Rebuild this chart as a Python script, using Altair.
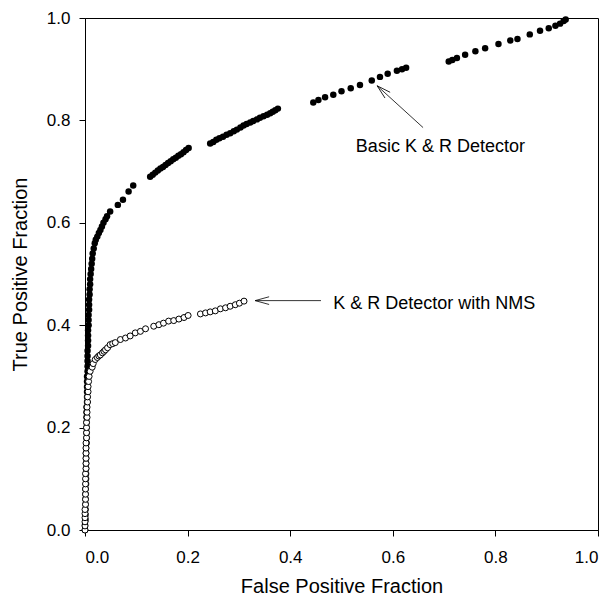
import altair as alt
import pandas as pd

# Basic K & R Detector (filled markers)
basic_x = [0.000, 0.000, 0.001, 0.001, 0.001, 0.001, 0.001, 0.001, 0.001, 0.002,
           0.002, 0.002, 0.002, 0.002, 0.002, 0.002, 0.002, 0.003, 0.003, 0.003,
           0.003, 0.003, 0.003, 0.003, 0.003, 0.004, 0.004, 0.004, 0.004, 0.004,
           0.004, 0.005, 0.005, 0.005, 0.005, 0.005, 0.006, 0.006, 0.006, 0.006,
           0.007, 0.007, 0.007, 0.008, 0.008, 0.008, 0.009, 0.009, 0.010, 0.010,
           0.011, 0.012, 0.013, 0.014, 0.015, 0.017, 0.019, 0.021,
           0.024, 0.027, 0.030, 0.033, 0.036, 0.040, 0.043, 0.049, 0.064, 0.074,
           0.085, 0.094,
           0.127, 0.132, 0.137, 0.142, 0.147, 0.152, 0.157, 0.162, 0.167, 0.172,
           0.177, 0.182, 0.187, 0.192, 0.197, 0.202,
           0.244, 0.250, 0.256, 0.262, 0.269, 0.276, 0.283, 0.290, 0.296, 0.303,
           0.309, 0.315, 0.322, 0.328, 0.335, 0.341, 0.348, 0.355, 0.361, 0.366,
           0.371, 0.376,
           0.445, 0.455, 0.468, 0.484, 0.500, 0.518, 0.536, 0.559, 0.575, 0.590,
           0.608, 0.618, 0.626,
           0.709, 0.716, 0.725, 0.741, 0.761, 0.780, 0.806, 0.829, 0.843, 0.867,
           0.887, 0.904, 0.917, 0.926, 0.933, 0.937]
basic_y = [0.000, 0.010, 0.020, 0.030, 0.040, 0.050, 0.060, 0.070, 0.080, 0.090,
           0.100, 0.110, 0.120, 0.130, 0.140, 0.150, 0.160, 0.170, 0.180, 0.190,
           0.200, 0.210, 0.220, 0.230, 0.240, 0.250, 0.260, 0.270, 0.280, 0.290,
           0.300, 0.310, 0.320, 0.330, 0.340, 0.350, 0.360, 0.370, 0.380, 0.390,
           0.400, 0.410, 0.420, 0.430, 0.440, 0.450, 0.460, 0.470, 0.480, 0.490,
           0.500, 0.510, 0.520, 0.530, 0.540, 0.550, 0.560, 0.567,
           0.573, 0.580, 0.586, 0.593, 0.600, 0.607, 0.613, 0.622, 0.635, 0.645,
           0.661, 0.673,
           0.690, 0.694, 0.698, 0.702, 0.706, 0.709, 0.713, 0.717, 0.720, 0.724,
           0.727, 0.731, 0.734, 0.738, 0.742, 0.746,
           0.755, 0.758, 0.762, 0.765, 0.768, 0.772, 0.775, 0.779, 0.782, 0.786,
           0.790, 0.793, 0.796, 0.799, 0.802, 0.805, 0.808, 0.811, 0.814, 0.817,
           0.820, 0.823,
           0.835, 0.840, 0.845, 0.850, 0.857, 0.863, 0.869, 0.878, 0.885, 0.891,
           0.897, 0.900, 0.903,
           0.915, 0.918, 0.922, 0.928, 0.935, 0.941, 0.949, 0.956, 0.959, 0.968,
           0.975, 0.980, 0.985, 0.989, 0.994, 0.997]

# K & R Detector with NMS (open markers)
nms_x = [0.000, 0.000, 0.000, 0.000, 0.000, 0.000, 0.001, 0.001, 0.001, 0.001,
         0.001, 0.001, 0.001, 0.002, 0.002, 0.002, 0.002, 0.002, 0.002, 0.003,
         0.003, 0.003, 0.003, 0.004, 0.004, 0.004, 0.005, 0.005, 0.006, 0.006,
         0.007, 0.008, 0.010, 0.014, 0.016,
         0.020, 0.024, 0.027, 0.030, 0.034, 0.037, 0.040, 0.044, 0.049, 0.054,
         0.059, 0.069, 0.079, 0.088, 0.098, 0.108, 0.118, 0.134, 0.144, 0.153,
         0.163, 0.173, 0.183, 0.193, 0.201,
         0.225, 0.235, 0.244, 0.254, 0.264, 0.274, 0.283, 0.293, 0.301, 0.310]
nms_y = [0.000, 0.008, 0.016, 0.024, 0.032, 0.040, 0.050, 0.060, 0.070, 0.080,
         0.090, 0.100, 0.110, 0.120, 0.130, 0.140, 0.150, 0.160, 0.170, 0.180,
         0.190, 0.200, 0.210, 0.220, 0.230, 0.240, 0.250, 0.260, 0.270, 0.280,
         0.290, 0.300, 0.310, 0.318, 0.325,
         0.333, 0.337, 0.340, 0.342, 0.346, 0.349, 0.352, 0.356, 0.362, 0.364,
         0.366, 0.372, 0.375, 0.379, 0.385, 0.388, 0.393, 0.398, 0.401, 0.404,
         0.408, 0.409, 0.412, 0.415, 0.419,
         0.422, 0.424, 0.426, 0.428, 0.432, 0.434, 0.437, 0.440, 0.443, 0.447]

# Annotations (data units)
label_text = ["Basic K & R Detector", "K & R Detector with NMS"]
label_x = [0.528, 0.484]
label_y = [0.749, 0.441]
arrow_x_tail = [0.659, 0.460]
arrow_y_tail = [0.786, 0.448]
arrow_x_head = [0.5695, 0.3316]
arrow_y_head = [0.8676, 0.448]
arrow_angle = [42, 0]

tick_vals = [0.0, 0.2, 0.4, 0.6, 0.8, 1.0]

FONT = "Liberation Sans"

basic_df = pd.DataFrame({"x": basic_x, "y": basic_y})
nms_df = pd.DataFrame({"x": nms_x, "y": nms_y})
lab_df = pd.DataFrame({"t": label_text, "x": label_x, "y": label_y})
arr_df = pd.DataFrame({"x": arrow_x_tail, "y": arrow_y_tail,
                       "x2": arrow_x_head, "y2": arrow_y_head,
                       "angle": arrow_angle})

xscale = alt.Scale(domain=[0, 1], nice=False)
yscale = alt.Scale(domain=[0, 1], nice=False)
xaxis = alt.Axis(values=tick_vals, format=".1f", title="False Positive Fraction",
                 grid=False, tickSize=6, labelPadding=13, titlePadding=11)
yaxis = alt.Axis(values=tick_vals, format=".1f", title="True Positive Fraction",
                 grid=False, tickSize=6, labelPadding=9, titlePadding=16)

basic = alt.Chart(basic_df).mark_point(filled=True, size=42, color="black", opacity=1).encode(
    x=alt.X("x:Q", scale=xscale, axis=xaxis),
    y=alt.Y("y:Q", scale=yscale, axis=yaxis),
)
nms = alt.Chart(nms_df).mark_point(filled=False, size=36, stroke="black", fill="white",
                                   fillOpacity=1, strokeWidth=1, opacity=1).encode(
    x="x:Q", y="y:Q"
)
lines = alt.Chart(arr_df).mark_rule(color="black", strokeWidth=0.8).encode(
    x="x:Q", y="y:Q", x2="x2:Q", y2="y2:Q"
)
heads = alt.Chart(arr_df).mark_point(shape="M0,0L2,-0.55M0,0L2,0.55", size=196,
                                     filled=False, stroke="black", strokeWidth=0.8,
                                     opacity=1).encode(
    x=alt.X("x2:Q"), y=alt.Y("y2:Q"), angle=alt.Angle("angle:Q", scale=None)
)
labels = alt.Chart(lab_df).mark_text(align="left", baseline="middle", font=FONT,
                                     fontSize=18, color="black").encode(
    x="x:Q", y="y:Q", text="t:N"
)

chart = alt.layer(basic, nms, lines, heads, labels).properties(
    width=513, height=512,
    autosize=alt.AutoSizeParams(type="none"),
    padding={"left": 77, "top": 10, "right": 6, "bottom": 66},
).configure_view(stroke="black", strokeWidth=1).configure_axis(
    domainColor="black", tickColor="black", labelColor="black", titleColor="black",
    labelFont=FONT, titleFont=FONT, labelFontSize=17, titleFontSize=20,
    titleFontWeight="normal", domainWidth=1, tickWidth=1
)

chart.save("out.html", embed_options={"renderer": "svg", "actions": False})
